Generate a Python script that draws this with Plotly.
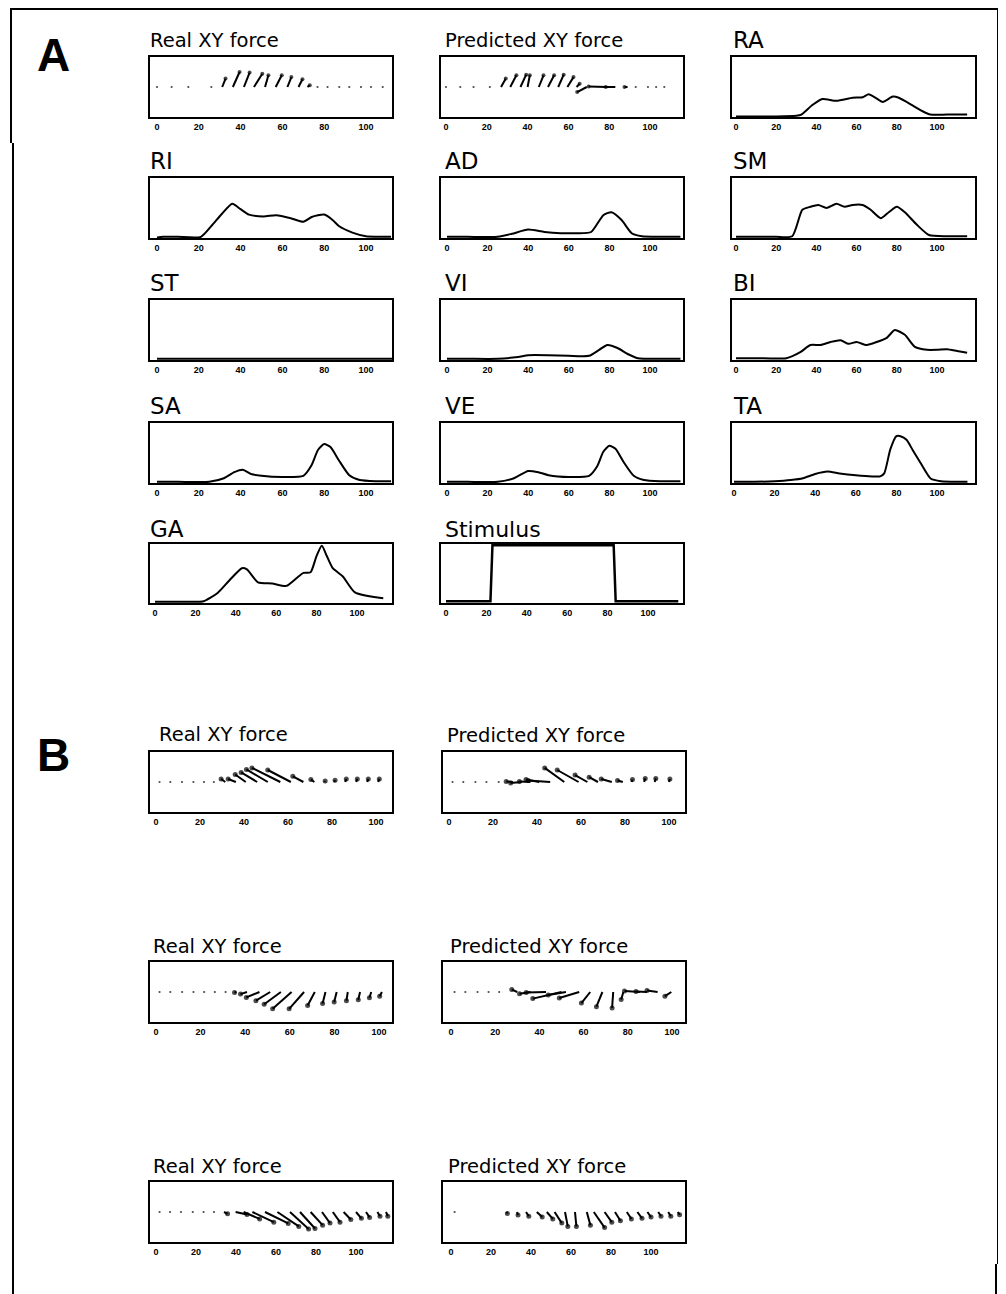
import plotly.graph_objects as go

# page body has an 8px margin, so the figure is sized to fit the 1006x1294 window
OFF = 8
W, H = 1006 - OFF, 1294 - OFF

# ---------------- data ----------------
tick_vals = [0, 20, 40, 60, 80, 100]

# Panel A: XY force vectors (time, x-component in time units, y-component)
a_real_t = [0, 7, 15, 26, 31.2, 36.3, 41.6, 46.4, 51.7, 56.8, 62.4, 67.7, 72, 76.8, 81.6, 87.2, 92, 97.6, 102.4, 108]
a_real_u = [0, 0, 0, 0, 1.6, 3.2, 2.7, 4.0, 1.6, 2.9, 1.9, 1.9, 1.1, 0, 0, 0, 0, 0, 0, 0]
a_real_v = [0, 0, 0, 0, 0.28, 0.5, 0.48, 0.44, 0.39, 0.39, 0.33, 0.26, 0.06, 0, 0, 0, 0, 0, 0, 0]

a_pred_t = [0, 7, 13.5, 21.5, 27, 31.5, 36.5, 40, 45.5, 50, 55, 59.5, 64, 69, 78.5, 83, 89, 93, 99, 103, 107]
a_pred_u = [0, 0, 0, 0, 2.3, 3, 2.8, 1.1, 2.3, 3, 2.7, 3, 1.5, -4.7, -8.6, -4.7, -1.5, 0, 0, 0, 0]
a_pred_v = [0, 0, 0, 0, 0.28, 0.39, 0.41, 0.39, 0.39, 0.39, 0.41, 0.33, 0.11, -0.17, 0.02, 0, 0, 0, 0, 0, 0]

# Panel A: muscle activity traces (time, normalised activity)
ra_t = [0, 10, 20, 30, 32.5, 38, 43, 50, 58, 63, 66, 69.5, 73, 78, 81, 88, 92.6, 96.7, 105, 115]
ra_v = [0.01, 0.01, 0.01, 0.02, 0.04, 0.2, 0.30, 0.27, 0.32, 0.33, 0.38, 0.32, 0.25, 0.34, 0.32, 0.19, 0.1, 0.04, 0.04, 0.04]

ri_t = [0, 3, 10, 21, 26, 31, 36, 40, 44, 51, 57, 64, 70, 74, 80, 84, 87, 93.5, 100, 112]
ri_v = [0.01, 0.02, 0.02, 0.02, 0.2, 0.4, 0.57, 0.48, 0.39, 0.36, 0.38, 0.33, 0.27, 0.35, 0.39, 0.3, 0.2, 0.09, 0.03, 0.02]

ad_t = [0, 10, 25, 32, 40, 48, 56, 64, 71, 77, 81, 86, 91, 96, 105, 115]
ad_v = [0.02, 0.02, 0.02, 0.07, 0.14, 0.1, 0.08, 0.08, 0.1, 0.38, 0.43, 0.3, 0.08, 0.03, 0.02, 0.02]

sm_t = [0, 10, 20, 28, 33, 37, 41, 45, 50, 54, 58, 63, 67, 72, 76, 80, 84, 90, 96, 105, 115]
sm_v = [0.02, 0.02, 0.02, 0.03, 0.47, 0.52, 0.55, 0.5, 0.57, 0.52, 0.55, 0.55, 0.47, 0.33, 0.43, 0.52, 0.43, 0.22, 0.05, 0.03, 0.03]

st_t = [0, 115]
st_v = [0.02, 0.02]

vi_t = [0, 10, 25, 35, 40, 50, 60, 70, 75, 79, 84, 89, 94, 105, 115]
vi_v = [0.02, 0.02, 0.02, 0.05, 0.08, 0.08, 0.07, 0.07, 0.17, 0.25, 0.2, 0.1, 0.03, 0.02, 0.02]

bi_t = [0, 10, 25, 32, 37, 42, 47, 52, 56, 60, 65, 70, 75, 79, 84, 89, 95, 100, 105, 110, 115]
bi_v = [0.03, 0.03, 0.03, 0.13, 0.25, 0.25, 0.3, 0.33, 0.27, 0.3, 0.25, 0.3, 0.37, 0.5, 0.42, 0.22, 0.17, 0.17, 0.18, 0.15, 0.12]

sa_t = [0, 10, 25, 32, 37, 41, 45, 50, 60, 70, 74, 77, 80, 83, 87, 92, 97, 105, 112]
sa_v = [0.02, 0.02, 0.02, 0.08, 0.18, 0.22, 0.15, 0.12, 0.1, 0.12, 0.3, 0.55, 0.65, 0.6, 0.38, 0.13, 0.05, 0.03, 0.03]

ve_t = [0, 10, 25, 33, 40, 45, 50, 60, 70, 74, 77, 80, 83, 87, 92, 97, 105, 115]
ve_v = [0.02, 0.02, 0.02, 0.08, 0.2, 0.18, 0.13, 0.1, 0.12, 0.28, 0.52, 0.62, 0.57, 0.35, 0.12, 0.05, 0.03, 0.03]

ta_t = [0, 10, 20, 28, 34, 40, 46, 52, 60, 68, 72, 74, 77, 80, 82, 85, 88, 92, 97, 102, 110, 115]
ta_v = [0.02, 0.02, 0.03, 0.05, 0.08, 0.15, 0.19, 0.16, 0.13, 0.11, 0.11, 0.16, 0.56, 0.78, 0.78, 0.72, 0.55, 0.33, 0.07, 0.03, 0.02, 0.02]

ga_t = [0, 10, 20, 24, 31, 37, 43, 45.5, 51, 58, 65, 70, 73.5, 77, 80, 82.6, 85, 88, 93, 99, 113]
ga_v = [0.02, 0.02, 0.02, 0.03, 0.17, 0.39, 0.59, 0.57, 0.35, 0.33, 0.29, 0.42, 0.51, 0.52, 0.8, 0.97, 0.8, 0.59, 0.45, 0.18, 0.08]

stim_t = [0, 22, 23, 83, 84, 115]
stim_v = [0.03, 0.03, 0.98, 0.98, 0.03, 0.03]

# Panel B: three examples of real / predicted XY force
b1_real_t = [1.6, 6.5, 11.8, 17, 21.8, 26.3, 31.5, 36.3, 40.8, 46, 50.8, 56.5, 61.3, 67, 72, 76.6, 81, 86, 91, 96, 101]
b1_real_u = [0, 0, 0, 0, 0, 0, -1.9, -3.5, -4.8, -7.3, -9.7, -12.9, -10.5, -4.8, -1.6, 0.3, 0.4, 0.5, 0.5, 0.5, 0.5]
b1_real_v = [0, 0, 0, 0, 0, 0, 0.1, 0.1, 0.25, 0.32, 0.42, 0.47, 0.40, 0.19, 0.08, 0.03, 0.06, 0.1, 0.1, 0.1, 0.1]

b1_pred_t = [1.6, 6.5, 12, 17, 22.6, 29, 33, 37, 41, 46, 52.4, 58.9, 62.9, 67.7, 74, 79, 83, 88.7, 93.5, 100]
b1_pred_u = [0, 0, 0, 0, 0, -3, -5, -5, -6, -10, -8.9, -9.7, -5.6, -4, -4.8, -2.4, 0.4, 0.5, 0.5, 0.4]
b1_pred_v = [0, 0, 0, 0, 0, 0.02, -0.03, 0.02, 0.08, 0.05, 0.47, 0.40, 0.23, 0.16, 0.10, 0.05, 0.08, 0.12, 0.12, 0.1]

b2_real_t = [1.6, 6.4, 11.7, 16.8, 21.6, 26.4, 31.2, 36, 40.8, 46.4, 51.2, 56, 60.8, 66.4, 71.2, 76, 81, 86, 91.5, 96.5, 101.3]
b2_real_u = [0, 0, 0, 0, 0, 0, 0, -0.8, -2.9, -5.9, -6.4, -7.5, -8.5, -6.7, -3.2, -1.3, -1.1, -0.6, -0.8, -0.8, -1.0]
b2_real_v = [0, 0, 0, 0, 0, 0, 0, -0.02, -0.07, -0.18, -0.29, -0.41, -0.56, -0.56, -0.45, -0.38, -0.33, -0.29, -0.26, -0.19, -0.14]

b2_pred_t = [1.6, 6.5, 12, 17, 21.8, 30, 36, 43, 50, 52, 58, 63, 68.5, 73.4, 78, 85.5, 88.7, 93.5, 99.7]
b2_pred_u = [0, 0, 0, 0, 0, -2.5, -5, -9, -13, -8, -9, -4, -2.7, -0.5, -1, -7, -5, -4.8, -2.9]
b2_pred_v = [0, 0, 0, 0, 0, 0.08, -0.06, -0.02, -0.22, -0.1, -0.2, -0.37, -0.49, -0.53, -0.25, 0.03, 0.02, 0.05, -0.14]

b3_real_t = [1.8, 7, 12.5, 18.4, 23.8, 29, 34, 39.8, 43.8, 48.2, 54.5, 60.7, 67, 72, 77.3, 83, 88.4, 93.8, 100, 105, 110.7, 115]
b3_real_u = [0, 0, 0, 0, 0, 0, 1.8, 5.7, 8, 10.7, 11.6, 10.7, 9.3, 7.5, 6, 4, 3.6, 3.6, 2.7, 1.8, 1.3, 0.9]
b3_real_v = [0, 0, 0, 0, 0, 0, -0.06, -0.08, -0.23, -0.34, -0.38, -0.48, -0.57, -0.55, -0.44, -0.37, -0.34, -0.25, -0.21, -0.18, -0.14, -0.14]

b3_pred_t = [1.8, 27.7, 33, 37.5, 42.9, 47.9, 51.8, 57, 62, 67.9, 71.4, 76.8, 82, 87.9, 93.2, 98.2, 103.6, 108.6, 113.4]
b3_pred_u = [0, 0.5, 0.5, 1.4, 2.7, 3, 3.6, 1.4, 0.7, 1.8, 5.4, 3.6, 2.7, 2.3, 2.3, 1.8, 1.4, 1.3, 0.9]
b3_pred_v = [0, -0.05, -0.1, -0.14, -0.17, -0.23, -0.37, -0.48, -0.48, -0.44, -0.52, -0.34, -0.29, -0.23, -0.21, -0.17, -0.14, -0.14, -0.09]

# ---------------- layout helpers ----------------
FONT = "Liberation Sans, Arial, sans-serif"
TFONT = "DejaVu Sans, Liberation Sans, sans-serif"
fig = go.Figure()
annotations = []
layout_axes = {}


def px(x):
    return (x - OFF) / W


def py(y):
    return 1 - (y - OFF) / H


def add_panel(idx, box, p0, p100, yrange):
    l, t, r, b = box
    s = (p100 - p0) / 100.0
    xrange = [(l - p0) / s, (r - p0) / s]
    xa = "xaxis" if idx == 1 else f"xaxis{idx}"
    ya = "yaxis" if idx == 1 else f"yaxis{idx}"
    xref = "x" if idx == 1 else f"x{idx}"
    yref = "y" if idx == 1 else f"y{idx}"
    layout_axes[xa] = dict(domain=[px(l), px(r)], range=xrange, anchor=yref,
                           tickvals=tick_vals, ticktext=[str(v) for v in tick_vals],
                           tickfont=dict(family=FONT, size=9, color="black", weight="bold"),
                           ticks="",
                           showgrid=False, zeroline=False, showline=True, mirror=True,
                           linecolor="black", linewidth=2, fixedrange=True)
    layout_axes[ya] = dict(domain=[py(b), py(t)], range=yrange, anchor=xref,
                           showticklabels=False, ticks="", showgrid=False, zeroline=False,
                           showline=True, mirror=True, linecolor="black", linewidth=2,
                           fixedrange=True)
    return xref, yref


def quiver(idx, box, p0, p100, t, u, v, tip=5):
    xref, yref = add_panel(idx, box, p0, p100, [-1, 1])
    xs, ys = [], []
    for ti, ui, vi in zip(t, u, v):
        xs += [ti, ti + ui, None]
        ys += [0, vi, None]
    fig.add_trace(go.Scatter(x=xs, y=ys, mode="lines", line=dict(color="black", width=2),
                             xaxis=xref, yaxis=yref, hoverinfo="skip"))
    tx = [ti + ui for ti, ui in zip(t, u)]
    sizes = [2.2 if (ui == 0 and vi == 0) else tip for ui, vi in zip(u, v)]
    fig.add_trace(go.Scatter(x=tx, y=v, mode="markers",
                             marker=dict(color="black", size=sizes, line=dict(width=0)),
                             xaxis=xref, yaxis=yref))


def trace(idx, box, p0, p100, t, v, smooth=True, width=2):
    xref, yref = add_panel(idx, box, p0, p100, [0, 1])
    line = dict(color="black", width=width)
    if smooth:
        line.update(shape="spline", smoothing=0.6)
    fig.add_trace(go.Scatter(x=t, y=v, mode="lines", line=line, xaxis=xref, yaxis=yref))


def title(text, x, y, size):
    annotations.append(dict(text=text, x=px(x - 4), y=py(y), xref="paper", yref="paper",
                            xanchor="left", yanchor="middle", showarrow=False,
                            font=dict(family=TFONT, size=size, color="black")))


# ---------------- panel A ----------------
C1, C2, C3 = (150, 392), (441, 683), (732, 975)
R = [(57, 117), (178, 238), (300, 360), (423, 483), (544, 603)]
L1, L2, L3 = (157, 366), (447, 650), (736, 937)

quiver(1, (C1[0], R[0][0], C1[1], R[0][1]), *L1, a_real_t, a_real_u, a_real_v, tip=4)
quiver(2, (C2[0], R[0][0], C2[1], R[0][1]), 446, 650, a_pred_t, a_pred_u, a_pred_v, tip=4)
trace(3, (C3[0], R[0][0], C3[1], R[0][1]), *L3, ra_t, ra_v)
trace(4, (C1[0], R[1][0], C1[1], R[1][1]), *L1, ri_t, ri_v)
trace(5, (C2[0], R[1][0], C2[1], R[1][1]), *L2, ad_t, ad_v)
trace(6, (C3[0], R[1][0], C3[1], R[1][1]), *L3, sm_t, sm_v)
trace(7, (C1[0], R[2][0], C1[1], R[2][1]), *L1, st_t, st_v)
trace(8, (C2[0], R[2][0], C2[1], R[2][1]), *L2, vi_t, vi_v)
trace(9, (C3[0], R[2][0], C3[1], R[2][1]), *L3, bi_t, bi_v)
trace(10, (C1[0], R[3][0], C1[1], R[3][1]), *L1, sa_t, sa_v)
trace(11, (C2[0], R[3][0], C2[1], R[3][1]), *L2, ve_t, ve_v)
trace(12, (C3[0], R[3][0], C3[1], R[3][1]), 734, 937, ta_t, ta_v)
trace(13, (C1[0], R[4][0], C1[1], R[4][1]), 155, 357, ga_t, ga_v)
trace(14, (C2[0], R[4][0], C2[1], R[4][1]), 446, 648, stim_t, stim_v, smooth=False, width=2.5)

for txt, col, row, sz in [("Real XY force", 152, 40, 19.5), ("Predicted XY force", 447, 40, 19.5), ("RA", 735, 40, 23),
                          ("RI", 152, 161, 23), ("AD", 447, 161, 23), ("SM", 735, 161, 23),
                          ("ST", 152, 283, 23), ("VI", 447, 283, 23), ("BI", 735, 283, 23),
                          ("SA", 152, 406, 23), ("VE", 447, 406, 23), ("TA", 735, 406, 23),
                          ("GA", 152, 529, 23), ("Stimulus", 447, 529, 22)]:
    title(txt, col, row, sz)

# ---------------- panel B ----------------
BC1, BC2 = (150, 392), (443, 685)
BR = [(752, 812), (962, 1022), (1182, 1242)]
quiver(15, (BC1[0], BR[0][0], BC1[1], BR[0][1]), 156, 376, b1_real_t, b1_real_u, b1_real_v)
quiver(16, (BC2[0], BR[0][0], BC2[1], BR[0][1]), 449, 669, b1_pred_t, b1_pred_u, b1_pred_v)
quiver(17, (BC1[0], BR[1][0], BC1[1], BR[1][1]), 156, 379, b2_real_t, b2_real_u, b2_real_v)
quiver(18, (BC2[0], BR[1][0], BC2[1], BR[1][1]), 451, 672, b2_pred_t, b2_pred_u, b2_pred_v)
quiver(19, (BC1[0], BR[2][0], BC1[1], BR[2][1]), 156, 356, b3_real_t, b3_real_u, b3_real_v)
quiver(20, (BC2[0], BR[2][0], BC2[1], BR[2][1]), 451, 651, b3_pred_t, b3_pred_u, b3_pred_v)

for txt, col, row in [("Real XY force", 161, 734), ("Predicted XY force", 449, 735),
                      ("Real XY force", 155, 946), ("Predicted XY force", 452, 946),
                      ("Real XY force", 155, 1166), ("Predicted XY force", 450, 1166)]:
    title(txt, col, row, 19.5)

# panel letters
for letter, yy in [("A", 55), ("B", 755)]:
    annotations.append(dict(text=f"<b>{letter}</b>", x=px(35), y=py(yy), xref="paper", yref="paper",
                            xanchor="left", yanchor="middle", showarrow=False,
                            font=dict(family=FONT, size=46, color="black")))

# outer frame
frame = [(10, 9, 998, 9), (11, 9, 11, 143), (13, 143, 13, 1294), (998, 9, 998, 1264), (996, 1264, 996, 1294)]
shapes = [dict(type="line", xref="paper", yref="paper", x0=px(a), y0=py(b), x1=px(c), y1=py(d),
               line=dict(color="black", width=2)) for a, b, c, d in frame]

fig.update_layout(width=W, height=H, margin=dict(l=0, r=0, t=0, b=0),
                  paper_bgcolor="white", plot_bgcolor="white", showlegend=False,
                  annotations=annotations, shapes=shapes, **layout_axes)

fig.write_html("out.html")
